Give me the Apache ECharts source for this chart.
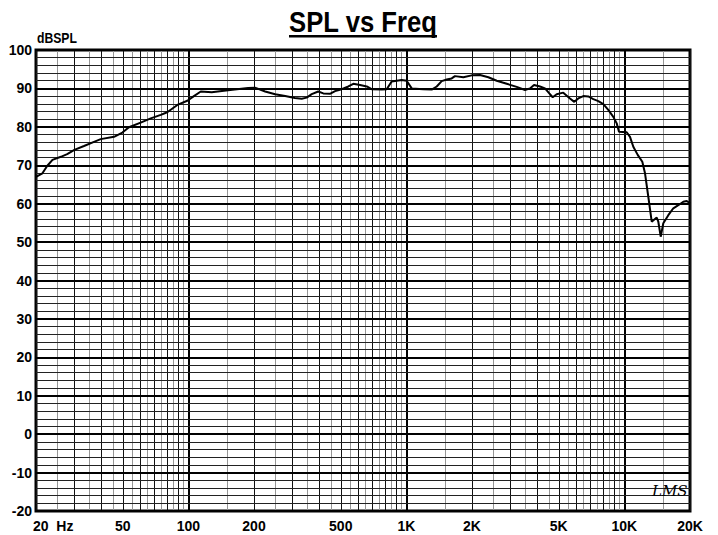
<!DOCTYPE html>
<html>
<head>
<meta charset="utf-8">
<script src="https://cdn.jsdelivr.net/npm/echarts@6/dist/echarts.min.js"></script>
<style>
  html, body { margin: 0; padding: 0; background: #fff; }
  #chart { width: 718px; height: 535px; }
</style>
</head>
<body>
<div id="chart"></div>
<script>
// frequency response
const freqs = [20, 21.4, 22.5, 23.8, 26.0, 27.8, 30, 33.2, 36.9, 39.6,
  45.6, 49.8, 53.4, 60.4, 67.2, 74.7, 80, 89, 98.9, 106,
  114, 128, 152, 188, 202, 225, 250, 278, 308, 331,
  349, 368, 394, 416, 446, 471, 505, 542, 571, 613,
  658, 693, 771, 812, 856, 952, 1003, 1058, 1196, 1307,
  1378, 1452, 1531, 1614, 1671, 1825, 1994, 2177, 2377, 2597,
  2886, 3206, 3501, 3690, 3850, 4102, 4324, 4525, 4690, 4892,
  5245, 5630, 5892, 6146, 6480, 6832, 7202, 7593, 8006, 8438,
  8896, 9222, 9448, 10248, 10612, 10990, 11512, 12086, 12436, 12876,
  13348, 14070, 14312, 14678, 15086, 15906, 16768, 17678, 18636, 19316, 20000]
const splDb = [67.0, 67.9, 69.8, 71.4, 72.2, 72.9, 74.0, 75.0, 76.1, 76.8,
  77.4, 78.5, 79.9, 81.1, 82.2, 83.1, 83.8, 85.7, 86.8, 88.0,
  89.2, 89.0, 89.5, 90.1, 90.2, 89.2, 88.5, 88.0, 87.5, 87.3,
  87.6, 88.5, 89.2, 88.7, 88.6, 89.3, 89.8, 90.5, 91.2, 90.9,
  90.5, 89.8, 89.7, 89.8, 91.8, 92.2, 92.0, 90.0, 89.8, 89.7,
  90.5, 91.9, 92.3, 92.6, 93.2, 92.9, 93.4, 93.5, 92.9, 92.0,
  91.2, 90.4, 89.6, 90.0, 90.9, 90.5, 90.0, 88.7, 87.7, 88.5,
  88.9, 87.4, 86.5, 87.4, 88.0, 87.9, 87.2, 86.7, 85.9, 84.4,
  82.6, 80.9, 78.7, 78.6, 77.4, 74.8, 72.7, 70.9, 67.9, 61.8,
  55.3, 56.4, 55.3, 51.4, 54.9, 57.0, 58.8, 59.6, 60.5, 60.7, 60.1]

const xTickValues = [20, 50, 100, 200, 500, 1000, 2000, 5000, 10000, 20000]
const xTickLabels = ['20  Hz', '50', '100', '200', '500', '1K', '2K', '5K', '10K', '20K']

const decades = [10, 100, 1000, 10000]
const multiples = [1, 1.5, 2, 2.5, 3, 3.5, 4, 4.5, 5, 5.5, 6, 6.5, 7, 7.5, 8, 8.5, 9, 9.5]

const FONT = "'Liberation Sans', Arial, sans-serif"

// vertical grid
const vLines = []
decades.forEach(d => {
  multiples.forEach(m => {
    const f = Math.round(d * m)
    if (f < 20 || f > 20000) return
    let style
    if (m === 1) style = {color: '#000', width: 2, type: 'solid'}
    else if (Number.isInteger(m)) style = {color: '#111', width: 1, type: 'solid'}
    else style = {color: '#969696', width: 1, type: 'solid'}
    const item = {xAxis: f, lineStyle: style, label: {show: false}}
    const ti = xTickValues.indexOf(f)
    if (ti >= 0) {
      item.label = {
        show: true,
        position: 'start',
        formatter: xTickLabels[ti],
        distance: 8,
        color: '#000',
        fontFamily: FONT,
        fontWeight: 'bold',
        fontSize: 14,
        align: f === 20 ? 'left' : 'center',
        padding: f === 20 ? [0, 0, 0, -3] : 0
      }
    }
    vLines.push(item)
  })
})

// horizontal grid, every 2 dB
const hLines = []
for (let v = -20; v <= 100; v += 2) {
  const major = v % 10 === 0
  hLines.push({
    yAxis: v,
    lineStyle: major ? {color: '#000', width: 2, type: 'solid'} : {color: '#222', width: 1, type: 'solid'},
    label: {show: false}
  })
}

const chart = echarts.init(document.getElementById('chart'), null, {renderer: 'svg'})

const options = {
  backgroundColor: '#fff',
  animation: false,
  grid: {
    left: 36, right: 28, top: 50, bottom: 24,
    show: true, borderColor: '#000', borderWidth: 3, backgroundColor: 'transparent'
  },
  xAxis: {
    type: 'log', logBase: 10, min: 20, max: 20000,
    axisLine: {show: false}, axisTick: {show: false},
    axisLabel: {show: false}, splitLine: {show: false}
  },
  yAxis: {
    type: 'value', min: -20, max: 100, interval: 2,
    axisLine: {show: false}, axisTick: {show: false}, splitLine: {show: false},
    axisLabel: {
      margin: 4,
      color: '#000',
      fontFamily: FONT,
      fontWeight: 'bold',
      fontSize: 14,
      formatter: v => (v % 10 === 0 ? String(v) : '')
    }
  },
  graphic: [
    {
      type: 'text', x: 363, y: 7, scaleX: 0.885, z: 10,
      style: {text: 'SPL vs Freq', font: "bold 29px " + FONT, fill: '#000', align: 'center', verticalAlign: 'top'}
    },
    {
      type: 'rect', shape: {x: 289, y: 35, width: 148, height: 2.5},
      style: {fill: '#000'}, z: 10
    },
    {
      type: 'text', x: 37, y: 31, scaleX: 0.87, z: 10,
      style: {text: 'dBSPL', font: "bold 14px " + FONT, fill: '#000', verticalAlign: 'top'}
    },
    {
      type: 'text', x: 652, y: 483, z: 10,
      style: {text: 'LMS', font: "italic 15px 'DejaVu Serif', serif", fill: '#000', verticalAlign: 'top'}
    }
  ],
  series: [
    {
      name: 'grid',
      type: 'line',
      data: [],
      z: 1,
      silent: true,
      markLine: {
        silent: true,
        symbol: 'none',
        animation: false,
        data: vLines.concat(hLines)
      }
    },
    {
      name: 'SPL',
      type: 'line',
      z: 5,
      symbol: 'none',
      lineStyle: {color: '#000', width: 2},
      data: freqs.map((f, i) => [f, splDb[i]])
    }
  ]
}

chart.setOption(options)
</script>
</body>
</html>
